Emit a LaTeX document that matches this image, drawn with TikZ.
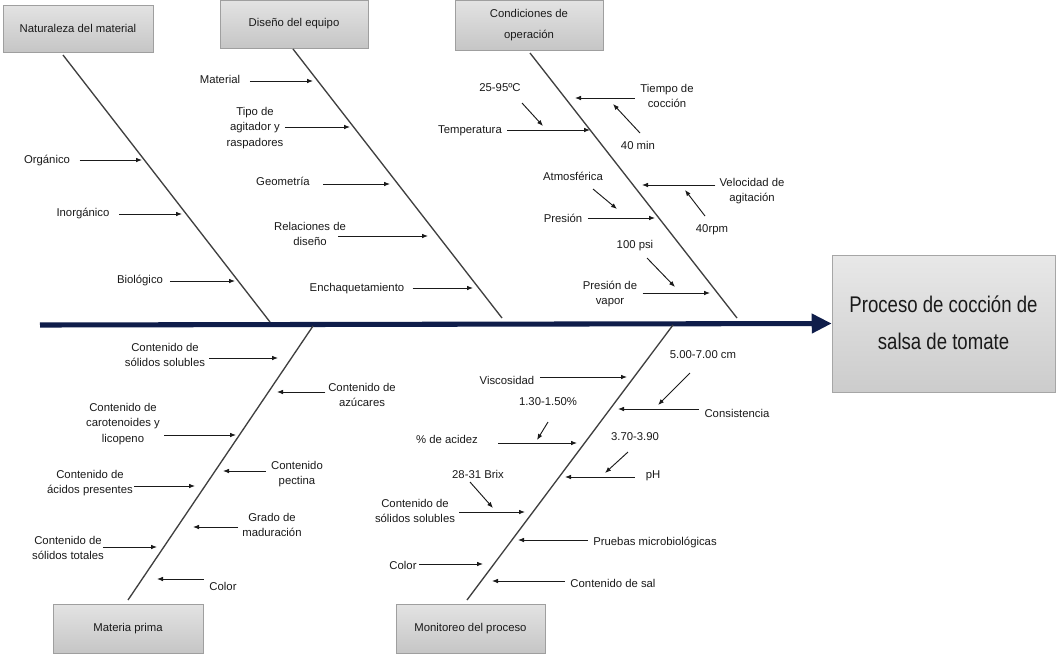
\documentclass[tikz,border=0pt]{standalone}
\usepackage{fontspec}
\setmainfont{Liberation Sans}
\usetikzlibrary{arrows.meta,calc}
\definecolor{navy}{HTML}{0F1D4A}
\definecolor{txt}{HTML}{1A1A1A}
\begin{document}
\begin{tikzpicture}[x=0.75pt,y=-0.75pt,
  lbl/.style={font=\fontsize{8.5}{11.8}\selectfont, align=center, inner sep=1pt, text=txt},
  box/.style={draw=gray!75, top color=gray!22, bottom color=gray!45, font=\fontsize{8.5}{15.5}\selectfont, align=center, inner sep=0pt, text=txt},
  bone/.style={draw=black!75, line width=1pt},
  br/.style={-{Latex[length=4.5pt,width=3.5pt]}, line width=0.7pt, draw=txt},
  spine/.style={line width=3.8pt, draw=navy, -{Triangle[length=15pt,width=14pt]}}]
\useasboundingbox (0,0) rectangle (1057,654);
\fill[white] (0,0) rectangle (1057,654);

% category boxes
\node[box, minimum width=112.5pt, minimum height=35.25pt] (nat) at (78,28.5) {Naturaleza del material};
\node[box, minimum width=111pt, minimum height=36pt] (dis) at (294,24) {Diseño del equipo};
\node[box, minimum width=111pt, minimum height=37.5pt] (con) at (529,25) {Condiciones de\\operación};
\node[box, minimum width=112.5pt, minimum height=36.75pt] (mat) at (128,628.5) {Materia prima};
\node[box, minimum width=111.75pt, minimum height=36.75pt] (mon) at (470.5,628.5) {Monitoreo del proceso};
\node[box, draw=gray!70, top color=gray!18, bottom color=gray!40, minimum width=167.25pt, minimum height=102.75pt] (proc) at (943.5,323.5)
  {\scalebox{0.82}[1]{\fontsize{17}{27.75}\selectfont\begin{tabular}{@{}c@{}}Proceso de cocción de\\salsa de tomate\end{tabular}}};

% spine
\coordinate (s0) at (40,325);
\draw[spine] (s0) -- (proc.west);

% bones
\coordinate (natA) at (63,55);   \coordinate (natB) at (270,322);
\coordinate (disA) at (293,49);  \coordinate (disB) at (502,318);
\coordinate (conA) at (530,53);  \coordinate (conB) at (737,318);
\coordinate (matA) at (128,600); \coordinate (matB) at (313,326);
\coordinate (monA) at (467,600); \coordinate (monB) at (673,325);
\draw[bone] (natA) -- (natB);
\draw[bone] (disA) -- (disB);
\draw[bone] (conA) -- (conB);
\draw[bone] (matA) -- (matB);
\draw[bone] (monA) -- (monB);

% horizontal arrow helpers: from a label side to an end coordinate, kept level
\newcommand{\rarr}[3]{\draw[br] ($(#1.east |- #2)+(#3,0)$) -- (#2);}
\newcommand{\larr}[3]{\draw[br] ($(#1.west |- #2)+(#3,0)$) -- (#2);}

% ---- Naturaleza del material
\node[lbl] (n1) at (47,160) {Orgánico};
\node[lbl] (n2) at (83,213) {Inorgánico};
\node[lbl] (n3) at (140,280) {Biológico};
\coordinate (n1e) at (142,160); \coordinate (n2e) at (182,214); \coordinate (n3e) at (235,281);
\rarr{n1}{n1e}{6pt}
\rarr{n2}{n2e}{6pt}
\rarr{n3}{n3e}{4pt}

% ---- Diseño del equipo
\node[lbl] (d1) at (220,79) {Material};
\node[lbl] (d2) at (255,128) {Tipo de\\agitador y\\raspadores};
\node[lbl] (d3) at (283,181) {Geometría};
\node[lbl] (d4) at (310,234) {Relaciones de\\diseño};
\node[lbl] (d5) at (357,289) {Enchaquetamiento};
\coordinate (d1e) at (313,81); \coordinate (d2e) at (350,127); \coordinate (d3e) at (390,184);
\coordinate (d4e) at (428,236); \coordinate (d5e) at (473,288);
\rarr{d1}{d1e}{6pt}
\rarr{d2}{d2e}{0pt}
\rarr{d3}{d3e}{9pt}
\rarr{d4}{d4e}{-7pt}
\rarr{d5}{d5e}{5pt}

% ---- Condiciones de operación
\node[lbl] (c1) at (470,131) {Temperatura};
\node[lbl] (c1v) at (500,88) {25-95ºC};
\node[lbl] (c2) at (667,96) {Tiempo de\\cocción};
\node[lbl] (c2v) at (638,145) {40 min};
\node[lbl] (c3) at (563,218) {Presión};
\node[lbl] (c3v) at (573,176) {Atmosférica};
\node[lbl] (c4) at (752,191) {Velocidad de\\agitación};
\node[lbl] (c4v) at (712,230) {40rpm};
\node[lbl] (c5) at (610,294) {Presión de\\vapor};
\node[lbl] (c5v) at (635,246) {100 psi};
\coordinate (c1e) at (590,130); \coordinate (c2e) at (575,98); \coordinate (c3e) at (655,218);
\coordinate (c4e) at (642,185); \coordinate (c5e) at (710,293);
\coordinate (c1s) at (522,103); \coordinate (c1t) at (543,126);
\coordinate (c2s) at (640,133); \coordinate (c2t) at (613,104);
\coordinate (c3s) at (593,189); \coordinate (c3t) at (617,209);
\coordinate (c4s) at (705,216); \coordinate (c4t) at (685,190);
\coordinate (c5s) at (647,258); \coordinate (c5t) at (675,287);
\rarr{c1}{c1e}{3pt}
\larr{c2}{c2e}{-3pt}
\rarr{c3}{c3e}{3pt}
\larr{c4}{c4e}{-2pt}
\rarr{c5}{c5e}{3pt}
\draw[br] (c1s) -- (c1t);
\draw[br] (c2s) -- (c2t);
\draw[br] (c3s) -- (c3t);
\draw[br] (c4s) -- (c4t);
\draw[br] (c5s) -- (c5t);

% ---- Materia prima
\node[lbl] (m1) at (165,355) {Contenido de\\sólidos solubles};
\node[lbl] (m2) at (362,395) {Contenido de\\azúcares};
\node[lbl] (m3) at (123,424) {Contenido de\\carotenoides y\\licopeno};
\node[lbl] (m4) at (297,474) {Contenido\\pectina};
\node[lbl] (m5) at (90,483) {Contenido de\\ácidos presentes};
\node[lbl] (m6) at (272,525) {Grado de\\maduración};
\node[lbl] (m7) at (68,548) {Contenido de\\sólidos totales};
\node[lbl] (m8) at (223,586) {Color};
\coordinate (m1e) at (278,358); \coordinate (m2e) at (277,392); \coordinate (m3e) at (236,435);
\coordinate (m4e) at (223,471); \coordinate (m5e) at (195,486); \coordinate (m6e) at (193,527);
\coordinate (m7e) at (157,547); \coordinate (m8e) at (157,579);
\rarr{m1}{m1e}{2pt}
\larr{m2}{m2e}{-1pt}
\rarr{m3}{m3e}{2pt}
\larr{m4}{m4e}{-3pt}
\rarr{m5}{m5e}{0pt}
\larr{m6}{m6e}{-2pt}
\rarr{m7}{m7e}{-2pt}
\larr{m8}{m8e}{-3pt}

% ---- Monitoreo del proceso
\node[lbl] (p1) at (507,380) {Viscosidad};
\node[lbl] (p2) at (737,413) {Consistencia};
\node[lbl] (p2v) at (703,355) {5.00-7.00 cm};
\node[lbl] (p3) at (447,439) {\% de acidez};
\node[lbl] (p3v) at (548,402) {1.30-1.50\%};
\node[lbl] (p4) at (653,476) {pH};
\node[lbl] (p4v) at (635,437) {3.70-3.90};
\node[lbl] (p5) at (415,511) {Contenido de\\sólidos solubles};
\node[lbl] (p5v) at (478,474) {28-31 Brix};
\node[lbl] (p6) at (655,542) {Pruebas microbiológicas};
\node[lbl] (p7) at (403,565) {Color};
\node[lbl] (p8) at (613,583) {Contenido de sal};
\coordinate (p1e) at (627,377); \coordinate (p2e) at (618,409); \coordinate (p3e) at (577,443);
\coordinate (p4e) at (565,477); \coordinate (p5e) at (525,512); \coordinate (p6e) at (518,540);
\coordinate (p7e) at (483,564); \coordinate (p8e) at (492,581);
\coordinate (p2s) at (690,373); \coordinate (p2t) at (658,405);
\coordinate (p3s) at (548,422); \coordinate (p3t) at (537,440);
\coordinate (p4s) at (628,452); \coordinate (p4t) at (605,473);
\coordinate (p5s) at (470,482); \coordinate (p5t) at (493,508);
\rarr{p1}{p1e}{3pt}
\larr{p2}{p2e}{-3pt}
\rarr{p3}{p3e}{14pt}
\larr{p4}{p4e}{-7pt}
\rarr{p5}{p5e}{2pt}
\larr{p6}{p6e}{-3pt}
\rarr{p7}{p7e}{1pt}
\larr{p8}{p8e}{-3pt}
\draw[br] (p2s) -- (p2t);
\draw[br] (p3s) -- (p3t);
\draw[br] (p4s) -- (p4t);
\draw[br] (p5s) -- (p5t);
\end{tikzpicture}
\end{document}
